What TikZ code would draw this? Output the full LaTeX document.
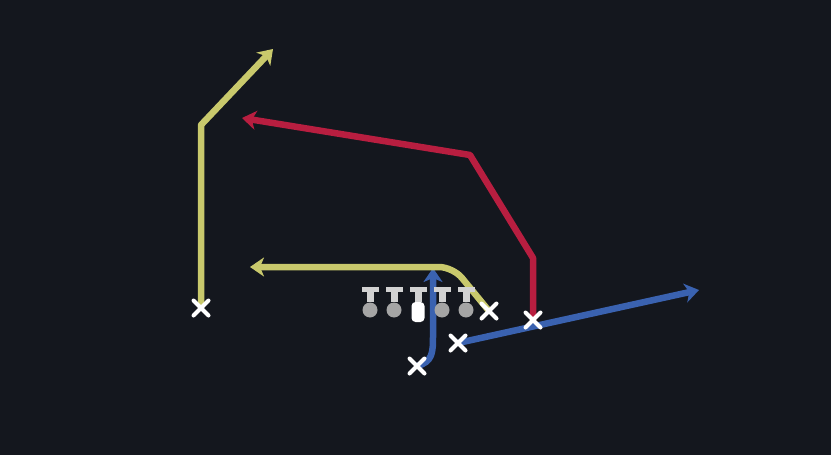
\documentclass[tikz,border=0pt]{standalone}
\usepackage{tikz}
\usetikzlibrary{
  arrows.meta,
  positioning,
  shapes.misc
}
\definecolor{field}{RGB}{20,23,30}
\definecolor{routeyellow}{RGB}{201,201,108}
\definecolor{routered}{RGB}{184,30,64}
\definecolor{routeblue}{RGB}{58,98,176}
\definecolor{olgray}{RGB}{165,165,165}
\definecolor{teegray}{RGB}{210,210,210}
\pgfdeclarelayer{back}
\pgfdeclarelayer{routes}
\pgfsetlayers{back,routes,main}
\tikzset{
  x=1pt, y=-1pt,
  node distance=24pt,
  route/.style={line width=6.5pt, line join=round,
    -{Stealth[length=14pt, width=19pt, inset=4pt]}},
  player/.style={cross out, draw=white, line width=4pt, line cap=round,
    minimum size=11pt, inner sep=0pt},
  tee/.style={draw=teegray, line width=7pt,
    -{Rectangle[width=17pt, length=5pt]}},
  lineman/.style={circle, fill=olgray, inner sep=0pt, minimum size=15pt,
    append after command={(\tikzlastnode.north) edge[tee] ++(0,-15)}},
  snapper/.style={lineman, rectangle, rounded corners=4pt, fill=white,
    minimum width=13pt, minimum height=20pt}
}

\begin{document}
\begin{tikzpicture}
    \begin{pgfonlayer}{back}
      \fill[field] (0,0) rectangle (831,455);
    \end{pgfonlayer}
    \useasboundingbox (0,0) rectangle (831,455);
    % line
    \node[lineman] (lt) at (370,310) {};
    \node[lineman, right of=lt] (lg) {};
    \node[snapper, right of=lg, yshift=-2pt] (c) {};
    \node[lineman, right of=lg, node distance=48pt] (rg) {};
    \node[lineman, right of=rg] (rt) {};
    % skill players
    \node[player] (xl) at (201,308) {};
    \node[player] (xy) at (489,311) {};
    \node[player] (xr) at (533,320) {};
    \node[player] (xf) at (458,343) {};
    \node[player] (xb) at (417,366) {};
    % turn points
    \coordinate (xl1) at (201,125);
    \coordinate (xl2) at (273,49);
    \coordinate (xr1) at (533,258);
    \coordinate (xr2) at (470,155);
    \coordinate (xr3) at (242,118);
    \coordinate (xy1) at (453,267);
    \coordinate (xy2) at (250,267);
    \coordinate (xb1) at (433,335);
    \coordinate (xb2) at (433,268);
    \coordinate (xf1) at (699,290);
    \begin{pgfonlayer}{routes}
      \draw[route, routeyellow] (xl.center) -- (xl1) -- (xl2);
      \draw[route, routered] (xr.center) -- (xr1) -- (xr2) -- (xr3);
      \draw[route, routeblue] (xb.center) .. controls (433,362) and (433,352) .. (xb1) -- (xb2);
      \draw[route, routeyellow, rounded corners=14pt] (xy.center) -- (xy1) -- (xy2);
      \draw[route, routeblue] (xf.center) -- (xf1);
    \end{pgfonlayer}
  \end{tikzpicture}
\end{document}
